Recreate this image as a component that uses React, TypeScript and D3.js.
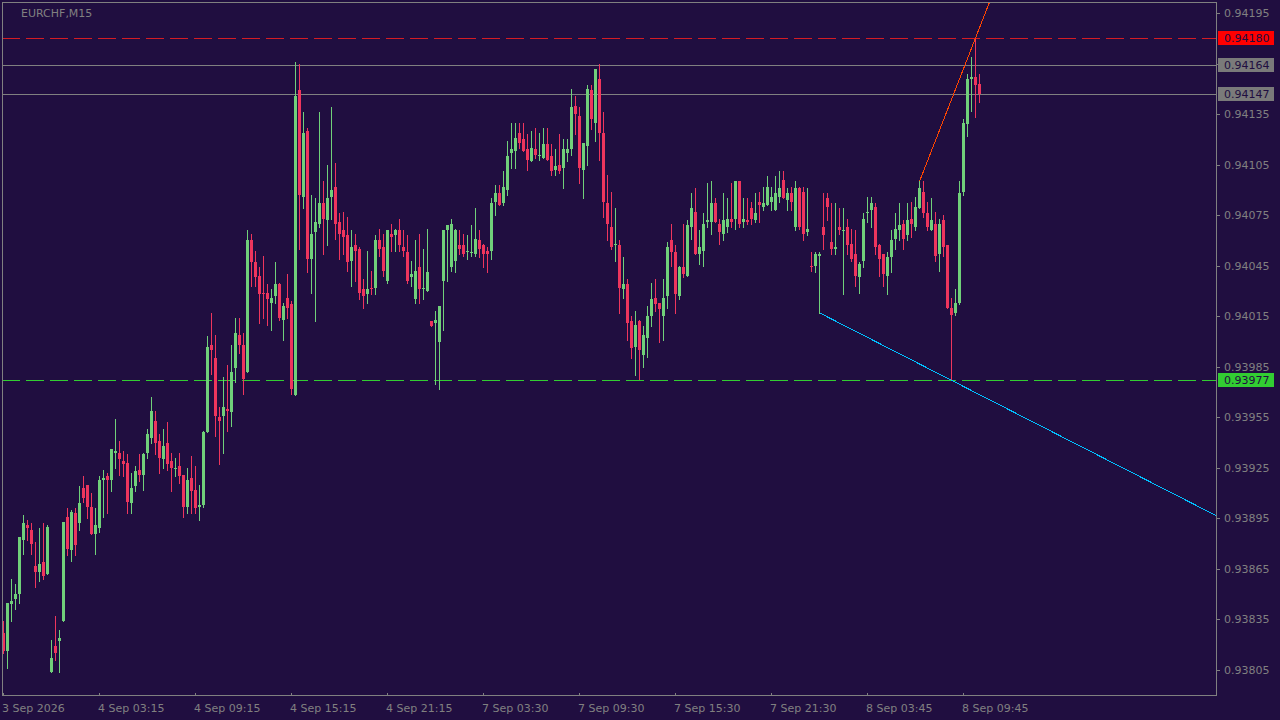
import { useMemo } from "react";
import { scaleLinear } from "d3";

const totalWidth = 1280;
const totalHeight = 720;
const plotLeft = 2;
const plotRight = 1216;
const plotTop = 2;
const plotBottom = 696;
const barSpacing = 4;

const symbolLabel = "EURCHF,M15";

// prices are kept in points above pointBase (1 point = 0.00001)
const pointBase = 0.938;
const pointSize = 0.00001;

const openPts = [
  27, 16, 44, 47, 50, 82, 91, 88, 67, 63, 69, 62, 4, 19, 22, 34, 96, 76, 98, 92,
  113, 115, 102, 86, 89, 118, 120, 118, 134, 134, 129, 128, 104, 114, 124, 121, 134, 143, 153, 141,
  130, 140, 129, 125, 126, 121, 102, 119, 112, 102, 103, 146, 198, 190, 155, 156, 160, 158, 184, 204,
  198, 182, 260, 247, 239, 229, 229, 223, 227, 234, 213, 226, 222, 168, 349, 286, 325, 249, 265, 270,
  282, 272, 286, 292, 271, 266, 263, 248, 257, 255, 231, 228, 232, 232, 260, 256, 236, 264, 263, 266,
  256, 253, 238, 225, 244, 231, 230, 212, 211, 200, 236, 266, 244, 248, 257, 257, 254, 253, 252, 260,
  257, 254, 254, 283, 288, 282, 290, 312, 313, 324, 320, 314, 307, 314, 311, 309, 317, 310, 302, 305,
  303, 312, 314, 340, 334, 302, 316, 349, 330, 356, 324, 282, 268, 258, 257, 231, 234, 212, 197, 212,
  192, 202, 215, 226, 223, 215, 227, 260, 253, 227, 244, 239, 268, 277, 252, 254, 271, 271, 282, 270,
  264, 268, 273, 273, 295, 271, 272, 279, 272, 283, 280, 281, 283, 278, 286, 296, 284, 288, 268, 291,
  289, 265, 245, 245, 251, 268, 285, 259, 255, 268, 266, 268, 258, 252, 238, 248, 276, 278, 280, 257,
  252, 239, 250, 261, 266, 270, 263, 273, 268, 279, 289, 276, 266, 270, 252, 272, 257, 220, 217, 223,
  289, 329, 356, 357, 353,
];
const highPts = [
  34, 45, 59, 56, 84, 97, 94, 92, 81, 89, 92, 91, 23, 37, 29, 93, 101, 100, 101, 114,
  120, 115, 110, 101, 120, 124, 122, 136, 154, 141, 135, 133, 122, 126, 133, 134, 148, 167, 159, 145,
  148, 152, 134, 131, 134, 121, 125, 132, 126, 115, 147, 203, 217, 204, 161, 179, 186, 198, 214, 214,
  205, 266, 264, 254, 244, 251, 234, 231, 247, 235, 223, 240, 224, 366, 365, 336, 327, 287, 285, 336,
  295, 305, 339, 306, 276, 277, 274, 266, 264, 256, 237, 254, 242, 263, 267, 264, 266, 270, 267, 273,
  266, 263, 248, 260, 264, 255, 267, 212, 218, 221, 266, 269, 273, 267, 266, 264, 263, 269, 279, 266,
  258, 256, 285, 293, 293, 301, 319, 330, 330, 330, 330, 323, 325, 327, 324, 327, 327, 317, 314, 323,
  320, 320, 350, 346, 339, 318, 352, 352, 362, 365, 336, 299, 289, 279, 260, 250, 237, 215, 218, 213,
  209, 221, 235, 237, 223, 237, 259, 270, 257, 245, 270, 272, 288, 291, 266, 276, 294, 295, 285, 273,
  288, 285, 294, 295, 295, 285, 285, 283, 288, 289, 292, 298, 292, 298, 301, 301, 291, 292, 295, 292,
  292, 291, 253, 253, 253, 288, 288, 282, 282, 279, 279, 273, 267, 266, 247, 276, 286, 286, 282, 258,
  252, 253, 266, 276, 282, 272, 282, 283, 286, 295, 295, 283, 285, 277, 273, 275, 257, 226, 231, 295,
  332, 359, 369, 380, 359,
];
const lowPts = [
  15, 6, 34, 41, 45, 74, 82, 74, 54, 58, 59, 62, 4, 11, 4, 34, 73, 70, 73, 88,
  105, 95, 86, 74, 87, 96, 98, 111, 125, 121, 120, 98, 98, 111, 117, 112, 131, 140, 133, 122,
  125, 124, 111, 120, 116, 96, 98, 98, 98, 94, 102, 146, 181, 144, 127, 134, 147, 150, 176, 193,
  169, 182, 233, 233, 211, 214, 210, 207, 223, 213, 201, 214, 169, 168, 255, 279, 241, 229, 212, 268,
  252, 257, 273, 261, 249, 252, 242, 233, 236, 225, 220, 223, 228, 228, 251, 239, 235, 254, 254, 254,
  251, 235, 233, 223, 223, 225, 230, 209, 175, 172, 207, 236, 242, 241, 252, 251, 249, 251, 251, 250,
  244, 241, 249, 275, 281, 281, 287, 303, 303, 315, 313, 302, 307, 309, 308, 309, 308, 299, 299, 300,
  291, 307, 311, 323, 294, 285, 305, 326, 319, 308, 274, 260, 255, 248, 217, 226, 201, 190, 180, 178,
  185, 191, 209, 218, 200, 201, 220, 245, 217, 225, 238, 239, 261, 252, 246, 245, 268, 264, 271, 258,
  260, 265, 268, 267, 268, 268, 270, 270, 271, 271, 278, 281, 278, 278, 283, 285, 278, 278, 266, 267,
  260, 263, 242, 241, 217, 255, 272, 252, 252, 264, 228, 252, 248, 233, 229, 244, 271, 268, 252, 239,
  233, 228, 241, 255, 260, 255, 260, 262, 266, 279, 274, 266, 266, 248, 242, 251, 220, 177, 216, 222,
  287, 322, 337, 333, 342,
];
const closePts = [
  16, 45, 46, 50, 84, 92, 89, 80, 63, 68, 61, 90, 12, 15, 24, 93, 77, 99, 79, 104,
  107, 102, 86, 91, 118, 119, 118, 136, 135, 130, 127, 105, 113, 123, 121, 133, 145, 159, 140, 131,
  138, 127, 125, 125, 120, 102, 118, 111, 101, 103, 146, 197, 195, 156, 153, 161, 159, 182, 205, 198,
  178, 260, 247, 238, 228, 228, 225, 226, 234, 214, 221, 220, 172, 346, 287, 324, 249, 264, 271, 282,
  273, 285, 290, 270, 264, 262, 247, 256, 254, 229, 227, 231, 231, 260, 255, 242, 266, 262, 266, 257,
  254, 236, 240, 242, 231, 232, 241, 209, 213, 221, 266, 269, 270, 266, 255, 252, 254, 253, 261, 255,
  252, 252, 282, 288, 281, 292, 310, 314, 321, 318, 313, 308, 315, 311, 311, 317, 308, 301, 304, 301,
  314, 314, 339, 335, 303, 318, 350, 332, 362, 324, 283, 270, 256, 258, 232, 234, 211, 196, 210, 195,
  204, 215, 225, 222, 219, 226, 256, 253, 228, 244, 240, 269, 279, 252, 256, 270, 272, 282, 271, 265,
  272, 273, 271, 295, 270, 273, 271, 273, 276, 281, 282, 292, 286, 288, 291, 285, 288, 283, 291, 268,
  264, 267, 244, 252, 252, 263, 280, 255, 256, 266, 266, 257, 249, 239, 246, 273, 277, 282, 256, 249,
  240, 250, 260, 267, 269, 261, 272, 270, 280, 291, 276, 268, 272, 251, 270, 256, 220, 216, 223, 288,
  330, 356, 357, 352, 347,
];

const timeLabels = [
  "3 Sep 2026",
  "4 Sep 03:15",
  "4 Sep 09:15",
  "4 Sep 15:15",
  "4 Sep 21:15",
  "7 Sep 03:30",
  "7 Sep 09:30",
  "7 Sep 15:30",
  "7 Sep 21:30",
  "8 Sep 03:45",
  "8 Sep 09:45",
];
const barsPerTimeLabel = 24;

const priceTicks = [
  0.93805, 0.93835, 0.93865, 0.93895, 0.93925, 0.93955, 0.93985, 0.94015, 0.94045,
  0.94075, 0.94105, 0.94135, 0.94165, 0.94195,
];

const levelPrices = [0.9418, 0.94164, 0.94147, 0.93977];
// drawn trend lines: resistance through two highs, support through two lows
const resistanceBars = [229, 243];
const supportBars = [204, 237];

const bg = "#200E40";
const fg = "#808080";
const bullColor = "#70D07A";
const bearColor = "#EE355D";
const levelStyles = [
  { stroke: "#D41C24", dash: "18 6", box: "#FF0000" },
  { stroke: "#808080", dash: undefined, box: "#7A7A7A" },
  { stroke: "#808080", dash: undefined, box: "#7A7A7A" },
  { stroke: "#32CD32", dash: "18 6", box: "#32CD32" },
];
const font = "'DejaVu Sans', Verdana, sans-serif";

const toPrice = (pts: number) => pointBase + pts * pointSize;

export default function App() {
  const { xScale, yScale } = useMemo(() => {
    const slots = (plotRight - plotLeft) / barSpacing;
    // bar i is centred at 3 + 4i
    const xScale = scaleLinear()
      .domain([0, slots])
      .range([plotLeft + 1, plotLeft + 1 + slots * barSpacing]);
    const yScale = scaleLinear()
      .domain([priceTicks[0], priceTicks[priceTicks.length - 1]])
      .range([670, 13]);
    return { xScale, yScale };
  }, []);

  const px = (v: number) => Math.round(v);

  const rayFrom = (bars: number[], values: number[]) => {
    const x1 = xScale(bars[0]);
    const y1 = yScale(toPrice(values[bars[0]]));
    const x2 = xScale(bars[1]);
    const y2 = yScale(toPrice(values[bars[1]]));
    const slope = (y2 - y1) / (x2 - x1);
    return { x1: x1 + 0.5, y1, x2: plotRight, y2: y1 + (plotRight - x1) * slope };
  };
  const resistance = rayFrom(resistanceBars, highPts);
  const support = rayFrom(supportBars, lowPts);

  const levelYs = levelPrices.map((p) => px(yScale(p)));

  return (
    <div style={{ position: "absolute", left: 0, top: 0 }}>
      <svg
        width={totalWidth}
        height={totalHeight}
        viewBox={`0 0 ${totalWidth} ${totalHeight}`}
        style={{ display: "block" }}
        fontFamily={font}
      >
        <defs>
          <clipPath id="plot">
            <rect x={plotLeft} y={plotTop} width={plotRight - plotLeft} height={plotBottom - plotTop} />
          </clipPath>
        </defs>
        <rect width={totalWidth} height={totalHeight} fill={bg} />

        <g clipPath="url(#plot)" shapeRendering="crispEdges">
          {levelPrices.map((p, i) => (
            <line
              key={p}
              x1={plotLeft}
              x2={plotRight}
              y1={levelYs[i] + 0.5}
              y2={levelYs[i] + 0.5}
              stroke={levelStyles[i].stroke}
              strokeDasharray={levelStyles[i].dash}
            />
          ))}

          {openPts.map((o, i) => {
            const c = closePts[i];
            const up = c >= o;
            const color = up ? bullColor : bearColor;
            const cx = px(xScale(i));
            const top = px(yScale(toPrice(Math.max(o, c))));
            const bottom = px(yScale(toPrice(Math.min(o, c))));
            const hy = px(yScale(toPrice(highPts[i])));
            const ly = px(yScale(toPrice(lowPts[i])));
            return (
              <g key={i}>
                <rect x={cx} y={hy} width={1} height={ly - hy + 1} fill={color} />
                <rect x={cx - 1} y={top} width={3} height={Math.max(1, bottom - top)} fill={color} />
              </g>
            );
          })}

          <line {...resistance} stroke="#FF4500" strokeWidth={1} />
          <line {...support} stroke="#00BFFF" strokeWidth={1} />
        </g>

        {/* frame */}
        <rect
          x={plotLeft + 0.5}
          y={plotTop + 0.5}
          width={plotRight - plotLeft}
          height={plotBottom - plotTop - 1}
          fill="none"
          stroke={fg}
          shapeRendering="crispEdges"
        />

        <text x={21} y={17} fill={fg} fontSize={11}>
          {symbolLabel}
        </text>

        {/* price axis */}
        <g shapeRendering="crispEdges">
          {priceTicks.map((t) => {
            const ty = px(yScale(t));
            const hidden = levelYs.some((ly) => Math.abs(ly - ty) < 10);
            return (
              <g key={t}>
                <line x1={plotRight} x2={plotRight + 4} y1={ty + 0.5} y2={ty + 0.5} stroke={fg} />
                {!hidden && (
                  <text x={plotRight + 8} y={ty + 4} fill={fg} fontSize={11}>
                    {t.toFixed(5)}
                  </text>
                )}
              </g>
            );
          })}
          {levelPrices.map((p, i) => (
            <g key={p}>
              <rect x={plotRight + 2} y={levelYs[i] - 7} width={56} height={14} fill={levelStyles[i].box} />
              <text x={plotRight + 8} y={levelYs[i] + 4} fill={bg} fontSize={11}>
                {p.toFixed(5)}
              </text>
            </g>
          ))}
        </g>

        {/* time axis */}
        <g shapeRendering="crispEdges">
          {timeLabels.map((label, k) => {
            const tx = px(xScale(k * barsPerTimeLabel));
            return (
              <g key={label}>
                <line x1={tx + 0.5} x2={tx + 0.5} y1={plotBottom - 3} y2={plotBottom} stroke={fg} />
                <text x={tx - 1} y={712} fill={fg} fontSize={11}>
                  {label}
                </text>
              </g>
            );
          })}
        </g>
      </svg>
    </div>
  );
}
